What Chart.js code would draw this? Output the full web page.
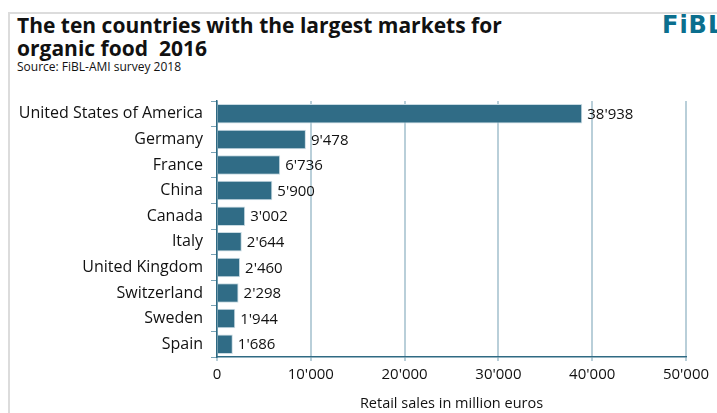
<!DOCTYPE html>
<html>
<head>
<meta charset="utf-8">
<script src="https://cdn.jsdelivr.net/npm/chart.js@4"></script>
<style>
  html, body { margin: 0; padding: 0; background: #fff; overflow: hidden; }
  #wrap { position: relative; width: 717px; height: 413px; overflow: hidden; font-family: "Open Sans", sans-serif; }
  #frame { position: absolute; left: 8px; top: 12px; width: 720px; height: 420px; border-left: 2px solid #dcdcdc; border-top: 2px solid #dcdcdc; }
  #titulo { position: absolute; left: 17px; top: 14px; font-weight: bold; font-size: 21px; line-height: 23px; color: #111; }
  #fuente { position: absolute; left: 17px; top: 59px; font-size: 12px; line-height: 15px; color: #111; }
  #logo { position: absolute; left: 662px; top: 11px; font-family: "DejaVu Sans", sans-serif; font-weight: bold; font-size: 24px; color: #0b6f8e; letter-spacing: 1px; }
  canvas { position: absolute; left: 0; top: 0; }
</style>
</head>
<body>
<div id="wrap">
  <div id="frame"></div>
  <div id="titulo">The ten countries with the largest markets for<br>organic food&nbsp; 2016</div>
  <div id="fuente">Source: FiBL-AMI survey 2018</div>
  <div id="logo">FiBL</div>
  <canvas id="grafico" width="717" height="413"></canvas>
</div>
<script>
// datos
const paises = ['United States of America', 'Germany', 'France', 'China', 'Canada',
  'Italy', 'United Kingdom', 'Switzerland', 'Sweden', 'Spain'];
const ventas = [38938, 9478, 6736, 5900, 3002, 2644, 2460, 2298, 1944, 1686];
const ticksX = [0, 10000, 20000, 30000, 40000, 50000];

const fuente = '"Open Sans", sans-serif';

function formato(n) {
  return String(n).replace(/\B(?=(\d{3})+(?!\d))/g, "'");
}

// etiquetas al final de cada barra
const etiquetas = {
  id: 'etiquetas',
  afterDatasetsDraw(chart) {
    const ctx = chart.ctx;
    const meta = chart.getDatasetMeta(0);
    ctx.save();
    ctx.font = '15px ' + fuente;
    ctx.fillStyle = '#111';
    ctx.textAlign = 'left';
    ctx.textBaseline = 'middle';
    meta.data.forEach((bar, i) => {
      ctx.fillText(formato(ventas[i]), bar.x + 5, bar.y + 1);
    });
    ctx.restore();
  }
};

new Chart(document.getElementById('grafico'), {
  type: 'bar',
  data: {
    labels: paises,
    datasets: [{
      data: ventas,
      backgroundColor: '#306c86',
      borderColor: '#c9dbe3',
      borderWidth: 1,
      barPercentage: 0.76,
      categoryPercentage: 1
    }]
  },
  options: {
    indexAxis: 'y',
    responsive: false,
    animation: false,
    events: [],
    layout: { padding: { left: 0, top: 101, right: 31, bottom: 0 } },
    plugins: { legend: { display: false }, tooltip: { enabled: false } },
    scales: {
      x: {
        min: 0,
        max: 50000,
        afterBuildTicks: (scale) => { scale.ticks = ticksX.map(v => ({ value: v })); },
        afterFit: (scale) => { scale.height = 413 - 357; },
        grid: { color: '#b9cfd9', lineWidth: 2, tickLength: 4, tickColor: '#b9cfd9' },
        border: { color: '#2f6a83', width: 1.5 },
        ticks: {
          color: '#111',
          font: { family: fuente, size: 15 },
          padding: 5,
          maxRotation: 0,
          callback: (v) => formato(v)
        },
        title: {
          display: true,
          text: 'Retail sales in million euros',
          color: '#111',
          font: { family: fuente, size: 14.5 },
          padding: { top: 2, bottom: 0 }
        }
      },
      y: {
        afterFit: (scale) => { scale.width = 217; },
        grid: { drawOnChartArea: false, tickLength: 6, color: '#7aa3b6', lineWidth: 1 },
        border: { color: '#2f6a83', width: 1.5 },
        ticks: {
          color: '#111',
          font: { family: fuente, size: 16 },
          padding: 8
        }
      }
    }
  },
  plugins: [etiquetas]
});
</script>
</body>
</html>
